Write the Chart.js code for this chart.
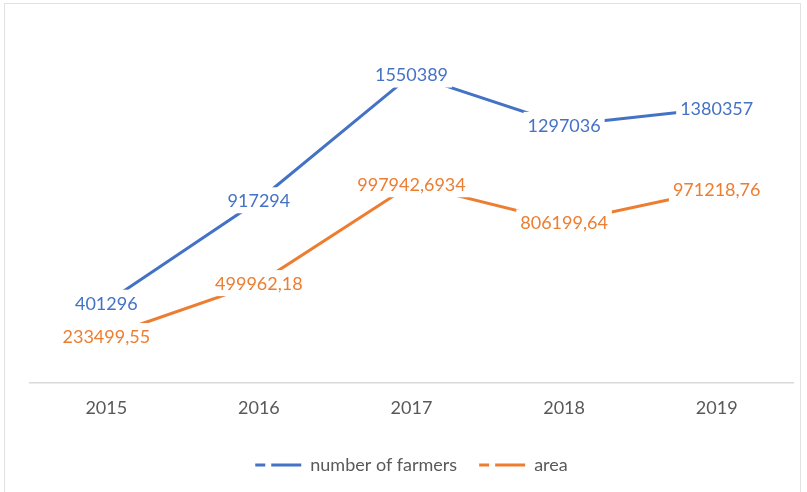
<!DOCTYPE html>
<html>
<head>
<meta charset="utf-8">
<script src="https://cdn.jsdelivr.net/npm/chart.js@4.4.1/dist/chart.umd.min.js"></script>
<style>
  html, body { margin: 0; padding: 0; background: #fff; }
  #wrap { position: relative; width: 807px; height: 492px; }
  #frame { position: absolute; left: 4px; top: 3px; width: 797px; height: 492px; border: 1px solid #e2e2e2; box-sizing: border-box; }
  canvas { position: absolute; left: 0; top: 0; }
</style>
</head>
<body>
<div id="wrap">
  <div id="frame"></div>
  <canvas id="line-chart" width="807" height="492"></canvas>
</div>
<script>
const years = ['2015', '2016', '2017', '2018', '2019'];
const farmers = [401296, 917294, 1550389, 1297036, 1380357];
const area = [233499.55, 499962.18, 997942.6934, 806199.64, 971218.76];
const farmersText = ['401296', '917294', '1550389', '1297036', '1380357'];
const areaText = ['233499,55', '499962,18', '997942,6934', '806199,64', '971218,76'];

const blue = '#4472c4';
const orange = '#ed7d31';

// data labels centred on each point, white box behind them
const pointLabels = {
    id: 'pointLabels',
    afterDatasetsDraw(chart) {
        const ctx = chart.ctx;
        ctx.save();
        ctx.font = '18px Lato';
        ctx.textAlign = 'center';
        ctx.textBaseline = 'middle';
        chart.data.datasets.forEach((ds, i) => {
            const meta = chart.getDatasetMeta(i);
            meta.data.forEach((pt, j) => {
                const txt = ds.labelsText[j];
                const w = ctx.measureText(txt).width;
                ctx.fillStyle = '#fff';
                ctx.fillRect(pt.x - w / 2 - 4, pt.y - 13, w + 8, 26);
                ctx.fillStyle = ds.borderColor;
                ctx.fillText(txt, pt.x, pt.y + 1);
            });
        });
        ctx.restore();
    }
};

new Chart(document.getElementById('line-chart'), {
    type: 'line',
    data: {
        labels: years,
        datasets: [{
            label: 'number of farmers',
            data: farmers,
            labelsText: farmersText,
            borderColor: blue,
            backgroundColor: blue,
            borderWidth: 3,
            pointRadius: 0,
            fill: false
        }, {
            label: 'area',
            data: area,
            labelsText: areaText,
            borderColor: orange,
            backgroundColor: orange,
            borderWidth: 3,
            pointRadius: 0,
            fill: false
        }]
    },
    options: {
        responsive: false,
        animation: false,
        layout: { padding: { left: 30, right: 14, top: 25, bottom: 8 } },
        scales: {
            x: {
                offset: true,
                grid: { display: false, drawTicks: false },
                border: { display: true, color: '#d9d9d9', width: 1.5 },
                ticks: { color: '#595959', font: { family: 'Lato', size: 18 }, padding: 15 }
            },
            y: {
                display: false,
                min: 0,
                max: 1800000
            }
        },
        plugins: {
            tooltip: { enabled: false },
            legend: {
                position: 'bottom',
                labels: {
                    color: '#595959',
                    font: { family: 'Lato', size: 18 },
                    usePointStyle: true,
                    pointStyle: 'line',
                    pointStyleWidth: 46,
                    boxHeight: 10,
                    padding: 22,
                    generateLabels(chart) {
                        const items = Chart.defaults.plugins.legend.labels.generateLabels(chart);
                        items.forEach(it => {
                            it.lineDash = [10, 6, 30, 0];
                            it.lineWidth = 3;
                        });
                        return items;
                    }
                }
            }
        }
    },
    plugins: [pointLabels]
});
</script>
</body>
</html>
